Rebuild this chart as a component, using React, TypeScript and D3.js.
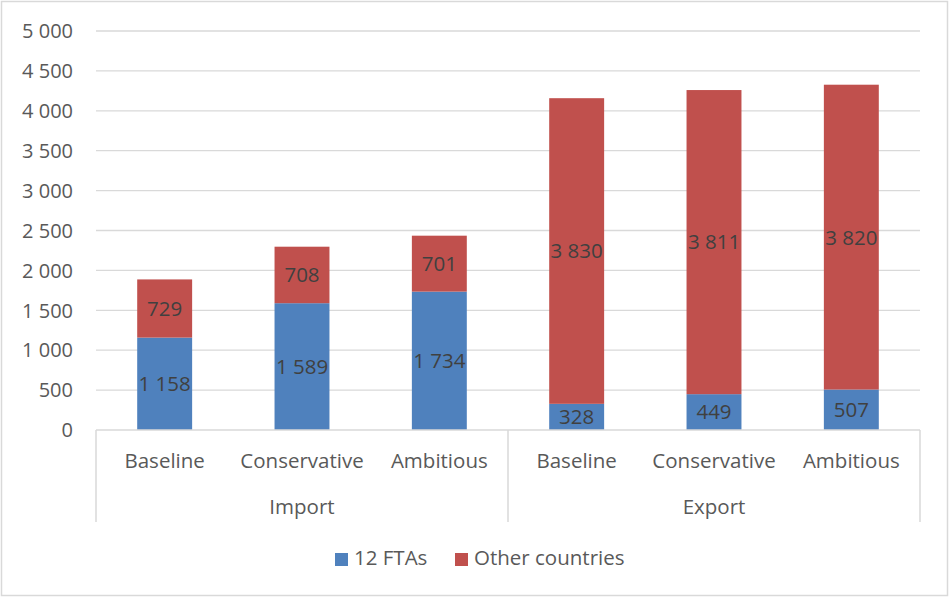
import React from "react";
import * as d3 from "d3";

const groups = ["Import", "Export"];
const scenarios = ["Baseline", "Conservative", "Ambitious"];
const seriesNames = ["12 FTAs", "Other countries"];
const ftaValues = [1158, 1589, 1734, 328, 449, 507];
const otherValues = [729, 708, 701, 3830, 3811, 3820];
const yTicks = [0, 500, 1000, 1500, 2000, 2500, 3000, 3500, 4000, 4500, 5000];
const colors = ["#4F81BD", "#C0504D"];

const W = 949;
const H = 597;
const FONT = "'Open Sans', 'Noto Sans', sans-serif";

export default function App() {
  const left = 96;
  const right = 920;
  const top = 31;
  const bottom = 430;

  const cats = groups.flatMap((g) => scenarios.map((s) => `${g}|${s}`));
  const rows = cats.map((c, i) => ({ key: c, fta: ftaValues[i], other: otherValues[i] }));
  const stack = d3.stack<any>().keys(["fta", "other"])(rows);

  const x = d3.scaleBand().domain(cats).range([left, right]).paddingInner(0).paddingOuter(0);
  const y = d3.scaleLinear().domain([0, 5000]).range([bottom, top]);
  const fmt = (v: number) => d3.format(",")(v).replace(/,/g, " ");
  const slot = x.bandwidth();
  const bw = slot * 0.4;

  return (
    <svg width={W} height={H} style={{ position: "absolute", left: 0, top: 0 }} fontFamily={FONT}>
      <rect x={1.5} y={1.5} width={W - 3} height={H - 3} fill="#fff" stroke="#D9D9D9" strokeWidth={1.5} />
      {yTicks.map((t) => (
        <g key={t}>
          {t > 0 && <line x1={left} x2={right} y1={y(t)} y2={y(t)} stroke="#D9D9D9" strokeWidth={1.3} />}
          <text x={73} y={y(t)} dy="0.36em" textAnchor="end" fontSize={20} fill="#595959">
            {fmt(t)}
          </text>
        </g>
      ))}
      {stack.map((s, si) =>
        s.map((d, i) => {
          const cx = (x(cats[i]) as number) + slot / 2;
          return (
            <rect key={`${si}-${i}`} x={cx - bw / 2} y={y(d[1])} width={bw} height={y(d[0]) - y(d[1])} fill={colors[si]} />
          );
        })
      )}
      {stack.map((s, si) =>
        s.map((d, i) => {
          const cx = (x(cats[i]) as number) + slot / 2;
          return (
            <text key={`l${si}-${i}`} x={cx} y={y((d[0] + d[1]) / 2)} dy="0.36em" textAnchor="middle" fontSize={20.5} fill="#404040">
              {fmt(d[1] - d[0])}
            </text>
          );
        })
      )}
      <line x1={left} x2={right} y1={bottom} y2={bottom} stroke="#D9D9D9" strokeWidth={1.5} />
      {[0, 3, 6].map((k) => (
        <line key={k} x1={left + slot * k} x2={left + slot * k} y1={bottom} y2={522} stroke="#D9D9D9" strokeWidth={1.5} />
      ))}
      {cats.map((c, i) => (
        <text key={c} x={(x(c) as number) + slot / 2} y={461} dy="0.36em" textAnchor="middle" fontSize={20.5} fill="#595959">
          {c.split("|")[1]}
        </text>
      ))}
      {groups.map((g, gi) => (
        <text key={g} x={left + slot * (gi * 3 + 1.5)} y={507} dy="0.36em" textAnchor="middle" fontSize={20.5} fill="#595959">
          {g}
        </text>
      ))}
      {seriesNames.map((n, i) => {
        const lx = [335, 455][i];
        return (
          <g key={n}>
            <rect x={lx} y={553} width={13} height={13} fill={colors[i]} />
            <text x={lx + 19} y={558} dy="0.36em" fontSize={20.5} fill="#595959">
              {n}
            </text>
          </g>
        );
      })}
    </svg>
  );
}
